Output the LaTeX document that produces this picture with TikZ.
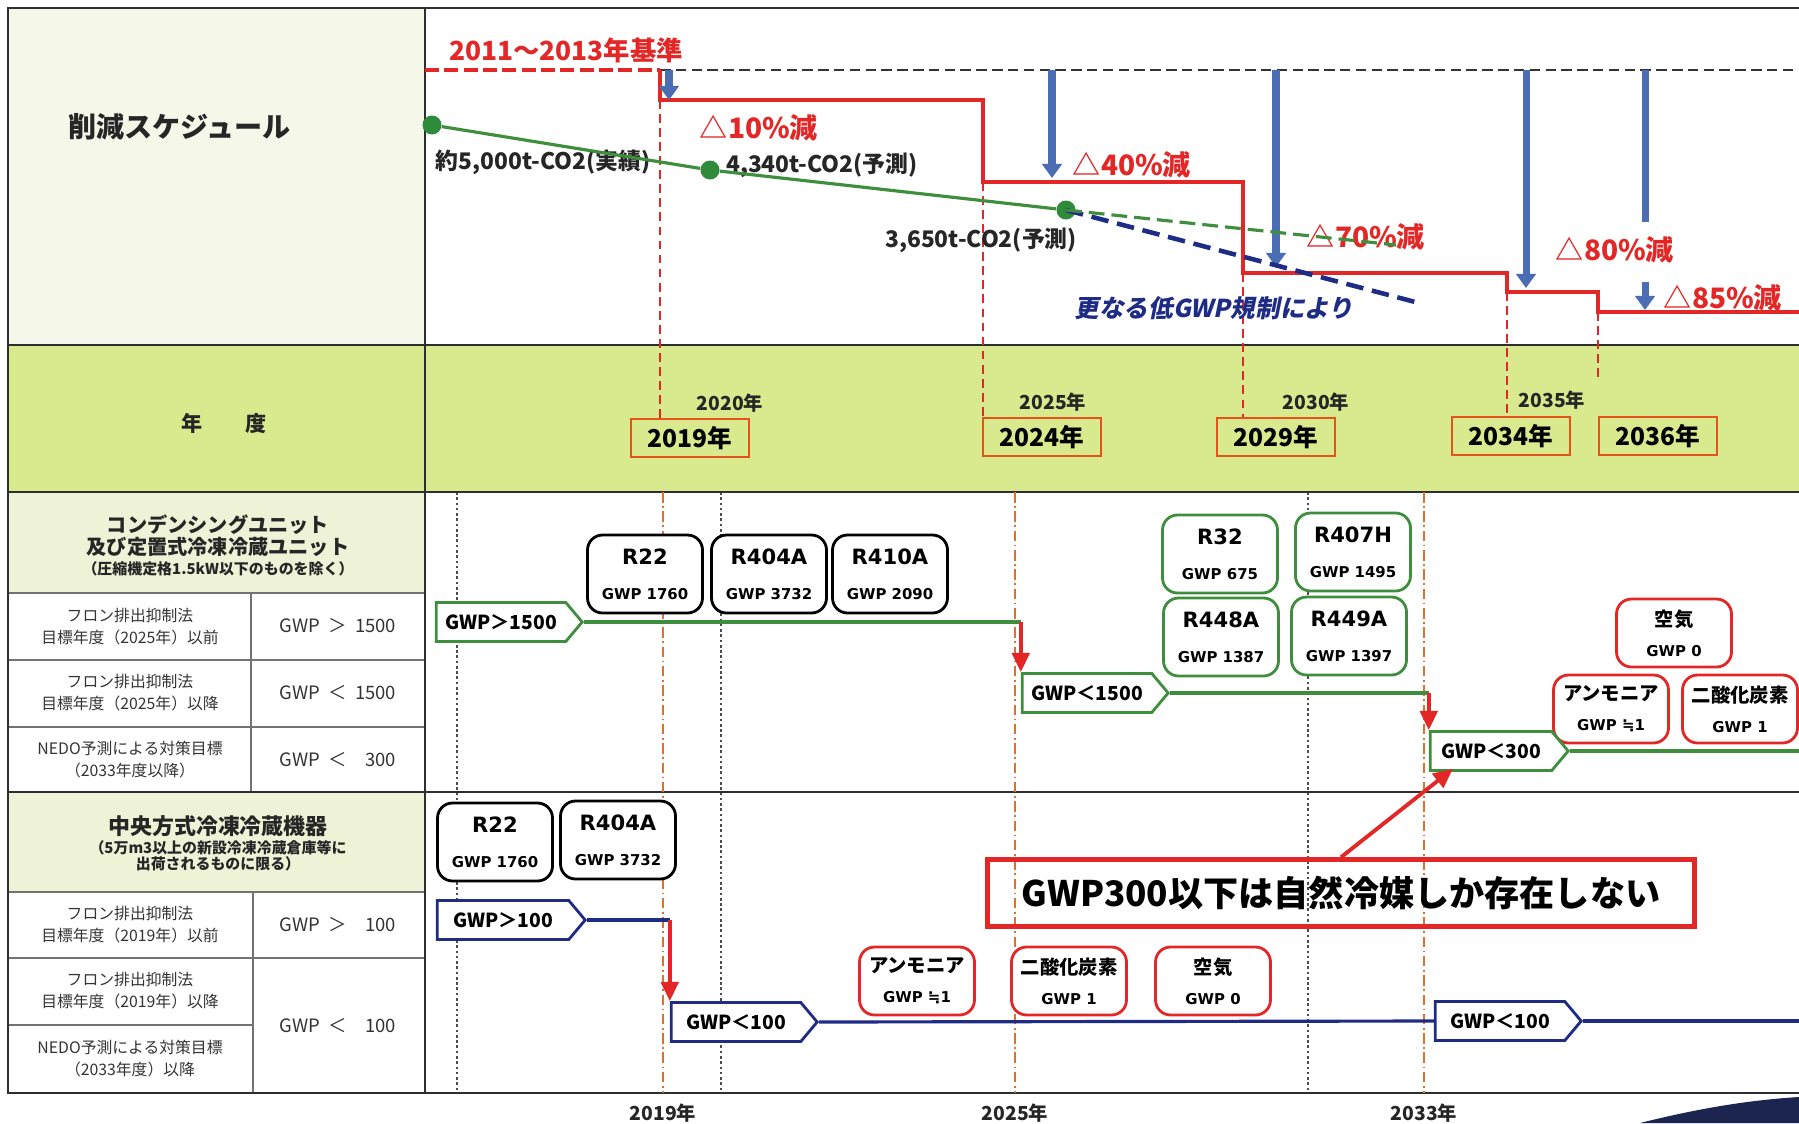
\documentclass[tikz,border=0pt]{standalone}
\usepackage{fontspec}
\setmainfont{Noto Sans CJK JP}
\newfontfamily\vfont{DejaVu Sans}
\newfontfamily\slfont{Noto Sans CJK JP}[FakeSlant=0.2]
\usepackage{tikz}
\usetikzlibrary{arrows.meta, shapes.symbols, calc}
\definecolor{redln}{HTML}{E32626}
\definecolor{blueln}{HTML}{4A6DB3}
\definecolor{grnln}{HTML}{3E8E3E}
\definecolor{grndot}{HTML}{2F8A3A}
\definecolor{navyln}{HTML}{1F2C86}
\definecolor{orgln}{HTML}{E0702A}
\definecolor{yrred}{HTML}{E5531A}
\definecolor{bandfill}{HTML}{D9E98E}
\definecolor{hdfill}{HTML}{EEF2D6}
\definecolor{topfill}{HTML}{F5F7E9}
\definecolor{frameln}{HTML}{2E2E2E}
\definecolor{swoosh}{HTML}{1B2550}

\begin{document}
\begin{tikzpicture}[
  x=0.02cm, y=-0.02cm,
  every node/.style={inner sep=1pt},
  lbl/.style   ={font=\fontsize{13}{15}\selectfont\bfseries, text=black!85},
  redlbl/.style={font=\fontsize{16}{18}\selectfont\bfseries, text=redln},
  yrlbl/.style ={font=\fontsize{11}{13}\selectfont\bfseries, text=black!85},
  yrbox/.style ={draw=yrred, line width=1.5pt, minimum width=2.36cm,
                 minimum height=0.76cm, font=\fontsize{14}{16}\selectfont\bfseries},
  rowtxt/.style={align=center, font=\fontsize{9}{12.5}\selectfont, text=black!80},
  gwptxt/.style={font=\fontsize{10.5}{12}\selectfont, text=black!80},
  hdtxt/.style ={align=center, font=\fontsize{11.5}{13}\selectfont\bfseries, text=black!85},
  tagg/.style  ={signal, signal to=east, signal from=nowhere, signal pointer angle=100,
                 draw=grnln, line width=1.6pt, fill=white, minimum width=2.92cm,
                 minimum height=0.78cm, inner sep=0pt,
                 font=\fontsize{11}{13}\selectfont\bfseries},
  tagb/.style  ={tagg, draw=navyln},
  refk/.style  ={draw=black, line width=1.6pt, rounded corners=0.3cm, fill=white,
                 minimum width=2.3cm, minimum height=1.56cm, align=center,
                 font=\vfont\fontsize{12}{20}\selectfont\bfseries},
  refg/.style  ={refk, draw=grnln},
  refr/.style  ={refk, draw=redln, minimum height=1.36cm,
                 font=\fontsize{11}{17}\selectfont\bfseries},
  note/.style  ={draw=redln, line width=2.6pt, minimum width=14.14cm,
                 minimum height=1.34cm, font=\fontsize{20}{22}\selectfont\bfseries},
  dot/.style   ={circle, fill=grndot, minimum size=0.38cm, inner sep=0pt},
  gline/.style ={draw=grnln, line width=1.8pt},
  bline/.style ={draw=navyln, line width=1.8pt},
  redarr/.style={-{Triangle[length=11pt,width=10pt]}, draw=redln, line width=2.2pt},
  bluarr/.style={-{Triangle[length=8pt,width=11pt]}, draw=blueln, line width=4pt},
  redstep/.style={draw=redln, line width=2.6pt},
  reddash/.style={draw=redln, line width=1pt, dash pattern=on 5pt off 3pt},
  orgdash/.style={draw=orgln, line width=1pt, dash pattern=on 6pt off 2pt on 1pt off 2pt},
  dotk/.style  ={draw=black!70, line width=0.6pt, dash pattern=on 1.5pt off 1.5pt},
  frame/.style ={draw=frameln, line width=1.5pt},
  thin/.style  ={draw=black!55, line width=0.8pt}
]
\useasboundingbox (0,0) rectangle (1799,1123);

%% ─── fills and table ───────────────────────────────────────────────────────
\fill[topfill]  (8,8)     rectangle (425,345);
\fill[bandfill] (8,345)   rectangle (1799,492);
\fill[hdfill]   (8,492)   rectangle (425,593);
\fill[hdfill]   (8,792)   rectangle (425,892);

\coordinate (lowtop) at (0,492);
\coordinate (lowbot) at (0,1093);
\coordinate (rgt)    at (1799,0);

\foreach \y in {593,660,727,892,958} \draw[thin] (8,\y) -- (425,\y);
\draw[thin] (8,1025) -- (253,1025);
\draw[thin] (251,593) -- (251,792);
\draw[thin] (253,892) -- (253,1093);

\foreach \x in {457,721,1308} \draw[dotk] (\x,492) -- (\x,1093);

\draw[frame] (1799,8) -- (8,8) -- (8,1093) -- (1799,1093);
\draw[frame] (425,8) -- (425,1093);
\foreach \y in {345,492,792} \draw[frame] (8,\y) -- (1799,\y);

%% ─── left column texts ─────────────────────────────────────────────────────
\node[font=\fontsize{16}{18}\selectfont\bfseries, text=black!85, anchor=west]
      (sched) at (66,127) {削減スケジュール};
\node[font=\fontsize{12}{14}\selectfont\bfseries, text=black!85]
      (nendo) at (224,423) {年\hspace{2em}度};

\node[hdtxt] (hd_cu) at (218,545) {コンデンシングユニット\\及び定置式冷凍冷蔵ユニット\\[-2pt]
      {\fontsize{8.5}{10}\selectfont（圧縮機定格1.5kW以下のものを除く）}};
\node[rowtxt] (r1_l) at (130,627) {フロン排出抑制法\\目標年度（2025年）以前};
\node[rowtxt] (r2_l) at (130,693) {フロン排出抑制法\\目標年度（2025年）以降};
\node[rowtxt] (r3_l) at (130,760) {NEDO予測による対策目標\\（2033年度以降）};
\node[gwptxt] (r1_g) at (338,626) {GWP\ \ ＞\ \ 1500};
\node[gwptxt] (r2_g) at (338,693) {GWP\ \ ＜\ \ 1500};
\node[gwptxt] (r3_g) at (338,760) {GWP\ \ ＜\ \ \phantom{1}300};

\node[hdtxt, font=\fontsize{12.5}{12}\selectfont\bfseries] (hd_cc) at (218,843)
      {中央方式冷凍冷蔵機器\\[-1pt]{\fontsize{8.5}{10}\selectfont（5万m3以上の新設冷凍冷蔵倉庫等に}\\[-3pt]
       {\fontsize{8.5}{10}\selectfont 出荷されるものに限る）}};
\node[rowtxt] (r4_l) at (130,925)  {フロン排出抑制法\\目標年度（2019年）以前};
\node[rowtxt] (r5_l) at (130,991)  {フロン排出抑制法\\目標年度（2019年）以降};
\node[rowtxt] (r6_l) at (130,1059) {NEDO予測による対策目標\\（2033年度）以降};
\node[gwptxt] (r4_g) at (338,925)  {GWP\ \ ＞\ \ \phantom{1}100};
\node[gwptxt] (r5_g) at (338,1026) {GWP\ \ ＜\ \ \phantom{1}100};

%% ─── year band ─────────────────────────────────────────────────────────────
\node[yrbox] (y2019) at (690,438)  {2019年};
\node[yrbox] (y2024) at (1042,437) {2024年};
\node[yrbox] (y2029) at (1276,437) {2029年};
\node[yrbox] (y2034) at (1511,436) {2034年};
\node[yrbox] (y2036) at (1658,436) {2036年};
\node[yrlbl] (f2020) at (730,403)  {2020年};
\node[yrlbl] (f2025) at (1053,402) {2025年};
\node[yrlbl] (f2030) at (1316,402) {2030年};
\node[yrlbl] (f2035) at (1552,400) {2035年};

\node[yrlbl] (b2019) at (663,1113)  {2019年};
\node[yrlbl] (b2025) at (1015,1113) {2025年};
\node[yrlbl] (b2033) at (1424,1113) {2033年};
\foreach \b in {b2019, b2025, b2033}
  \draw[orgdash] (\b |- lowtop) -- (\b |- lowbot);

%% ─── reduction schedule ────────────────────────────────────────────────────
\coordinate (s0) at (660,70);
\coordinate (s1) at (660,100);
\coordinate (s2) at (983,182);
\coordinate (s3) at (1243,273);
\coordinate (s4) at (1507,292);
\coordinate (s5) at (1598,312);

\draw[draw=black!80, line width=1.4pt, dash pattern=on 6pt off 3pt] (s0) -- (s0 -| rgt);
\draw[redstep, dash pattern=on 8pt off 3pt] (425,70) -- (s0);
\draw[redstep] (s0) -- (s1) -- (s1 -| s2) -- (s2) -- (s2 -| s3) -- (s3)
               -- (s3 -| s4) -- (s4) -- (s4 -| s5) -- (s5) -- (s5 -| rgt);

\draw[reddash] (s1) -- (s1 |- y2019.north);
\draw[reddash] (s2) -- (s2 |- y2024.north);
\draw[reddash] (s3) -- (s3 |- y2029.north);
\draw[reddash] (s4) -- (s4 |- y2034.north);
\draw[reddash] (s5) -- ++(0,65);

\foreach \x/\y in {669/100, 1052/178, 1276/267, 1526/288}
  \draw[bluarr] (\x,70) -- (\x,\y);
\draw[draw=blueln, line width=4pt] (1645,70) -- (1645,222);
\draw[bluarr] (1645,282) -- (1645,310);

\node[redlbl, font=\fontsize{15}{17}\selectfont\bfseries] (base) at (566,50) {2011〜2013年基準};
\node[redlbl] (p10) at (759,128)  {△10\%減};
\node[redlbl] (p40) at (1132,165) {△40\%減};
\node[redlbl] (p70) at (1366,237) {△70\%減};
\node[redlbl] (p80) at (1615,250) {△80\%減};
\node[redlbl] (p85) at (1723,298) {△85\%減};

\node[lbl] (v5000) at (543,162) {約5,000t-CO2(実績)};
\node[lbl, anchor=west] (v4340) at (724,165) {4,340t-CO2(予測)};
\node[lbl] (v3650) at (981,240) {3,650t-CO2(予測)};
\node[font=\slfont\fontsize{14}{16}\selectfont\bfseries, text=navyln]
      (lowgwp) at (1214,308) {更なる低GWP規制により};

\node[dot] (d1) at (432,125)  {};
\node[dot] (d2) at (710,170)  {};
\node[dot] (d3) at (1066,210) {};
\coordinate (g70) at (1396,245);
\coordinate (n70) at (1419,303);
\draw[gline] (d1) -- (d2) -- (d3);
\draw[draw=navyln, line width=2.6pt, dash pattern=on 10pt off 5pt] (d3.center) -- (n70);
\draw[gline, dash pattern=on 9pt off 4pt] (d3.center) -- (g70);

%% ─── condensing units ──────────────────────────────────────────────────────
\node[refk] (cu_r22)  at (645,574) {R22\\{\fontsize{8.5}{10}\selectfont GWP 1760}};
\node[refk] (cu_404)  at (769,574) {R404A\\{\fontsize{8.5}{10}\selectfont GWP 3732}};
\node[refk] (cu_410)  at (890,574) {R410A\\{\fontsize{8.5}{10}\selectfont GWP 2090}};
\node[refg] (cu_r32)  at (1220,554) {R32\\{\fontsize{8.5}{10}\selectfont GWP 675}};
\node[refg] (cu_407)  at (1353,552) {R407H\\{\fontsize{8.5}{10}\selectfont GWP 1495}};
\node[refg] (cu_448)  at (1221,637) {R448A\\{\fontsize{8.5}{10}\selectfont GWP 1387}};
\node[refg] (cu_449)  at (1349,636) {R449A\\{\fontsize{8.5}{10}\selectfont GWP 1397}};
\node[refr] (cu_air)  at (1674,633) {空気\\{\vfont\fontsize{8.5}{10}\selectfont GWP 0}};
\node[refr] (cu_nh3)  at (1611,709) {アンモニア\\{\vfont\fontsize{8.5}{10}\selectfont GWP ≒1}};
\node[refr] (cu_co2)  at (1740,709) {二酸化炭素\\{\vfont\fontsize{8.5}{10}\selectfont GWP 1}};

\node[tagg] (tg1) at (501,622) {GWP＞1500};
\node[tagg] (tg2) at (1087,693) {GWP＜1500};
\node[tagg, minimum width=2.76cm] (tg3) at (1491,751) {GWP＜300};

\draw[gline]  (tg1.east) -- (tg1.east -| tg2.west);
\draw[redarr] (tg1.east -| tg2.west) -- (tg2.west |- tg2.north);
\draw[gline]  (tg2.east) -- (tg2.east -| tg3.west);
\draw[redarr] (tg2.east -| tg3.west) -- (tg3.west |- tg3.north);
\draw[gline]  (tg3.east) -- (tg3.east -| rgt);

%% ─── central systems ───────────────────────────────────────────────────────
\node[refk] (cc_r22) at (495,842) {R22\\{\fontsize{8.5}{10}\selectfont GWP 1760}};
\node[refk] (cc_404) at (618,840) {R404A\\{\fontsize{8.5}{10}\selectfont GWP 3732}};
\node[refr] (cc_nh3) at (917,981)  {アンモニア\\{\vfont\fontsize{8.5}{10}\selectfont GWP ≒1}};
\node[refr] (cc_co2) at (1069,981) {二酸化炭素\\{\vfont\fontsize{8.5}{10}\selectfont GWP 1}};
\node[refr] (cc_air) at (1213,981) {空気\\{\vfont\fontsize{8.5}{10}\selectfont GWP 0}};

\node[tagb, minimum width=2.96cm] (tb1) at (503,920)  {GWP＞100};
\node[tagb] (tb2) at (736,1022)  {GWP＜100};
\node[tagb] (tb3) at (1500,1021) {GWP＜100};

\draw[bline]  (tb1.east) -- (tb1.east -| tb2.west);
\draw[redarr] (tb1.east -| tb2.west) -- (tb2.west |- tb2.north);
\draw[bline]  (tb2.east) -- (tb3.west);
\draw[bline]  (tb3.east) -- (tb3.east -| rgt);

\node[note] (nat) at (1341,893) {GWP300以下は自然冷媒しか存在しない};
\draw[redarr] (nat.north) -- ($(tg3.south west)+(24,-3)$);

\fill[swoosh] (1640,1123) .. controls (1700,1108) and (1750,1100) .. (1799,1097)
              -- (1799,1123) -- cycle;

\end{tikzpicture}
\end{document}
